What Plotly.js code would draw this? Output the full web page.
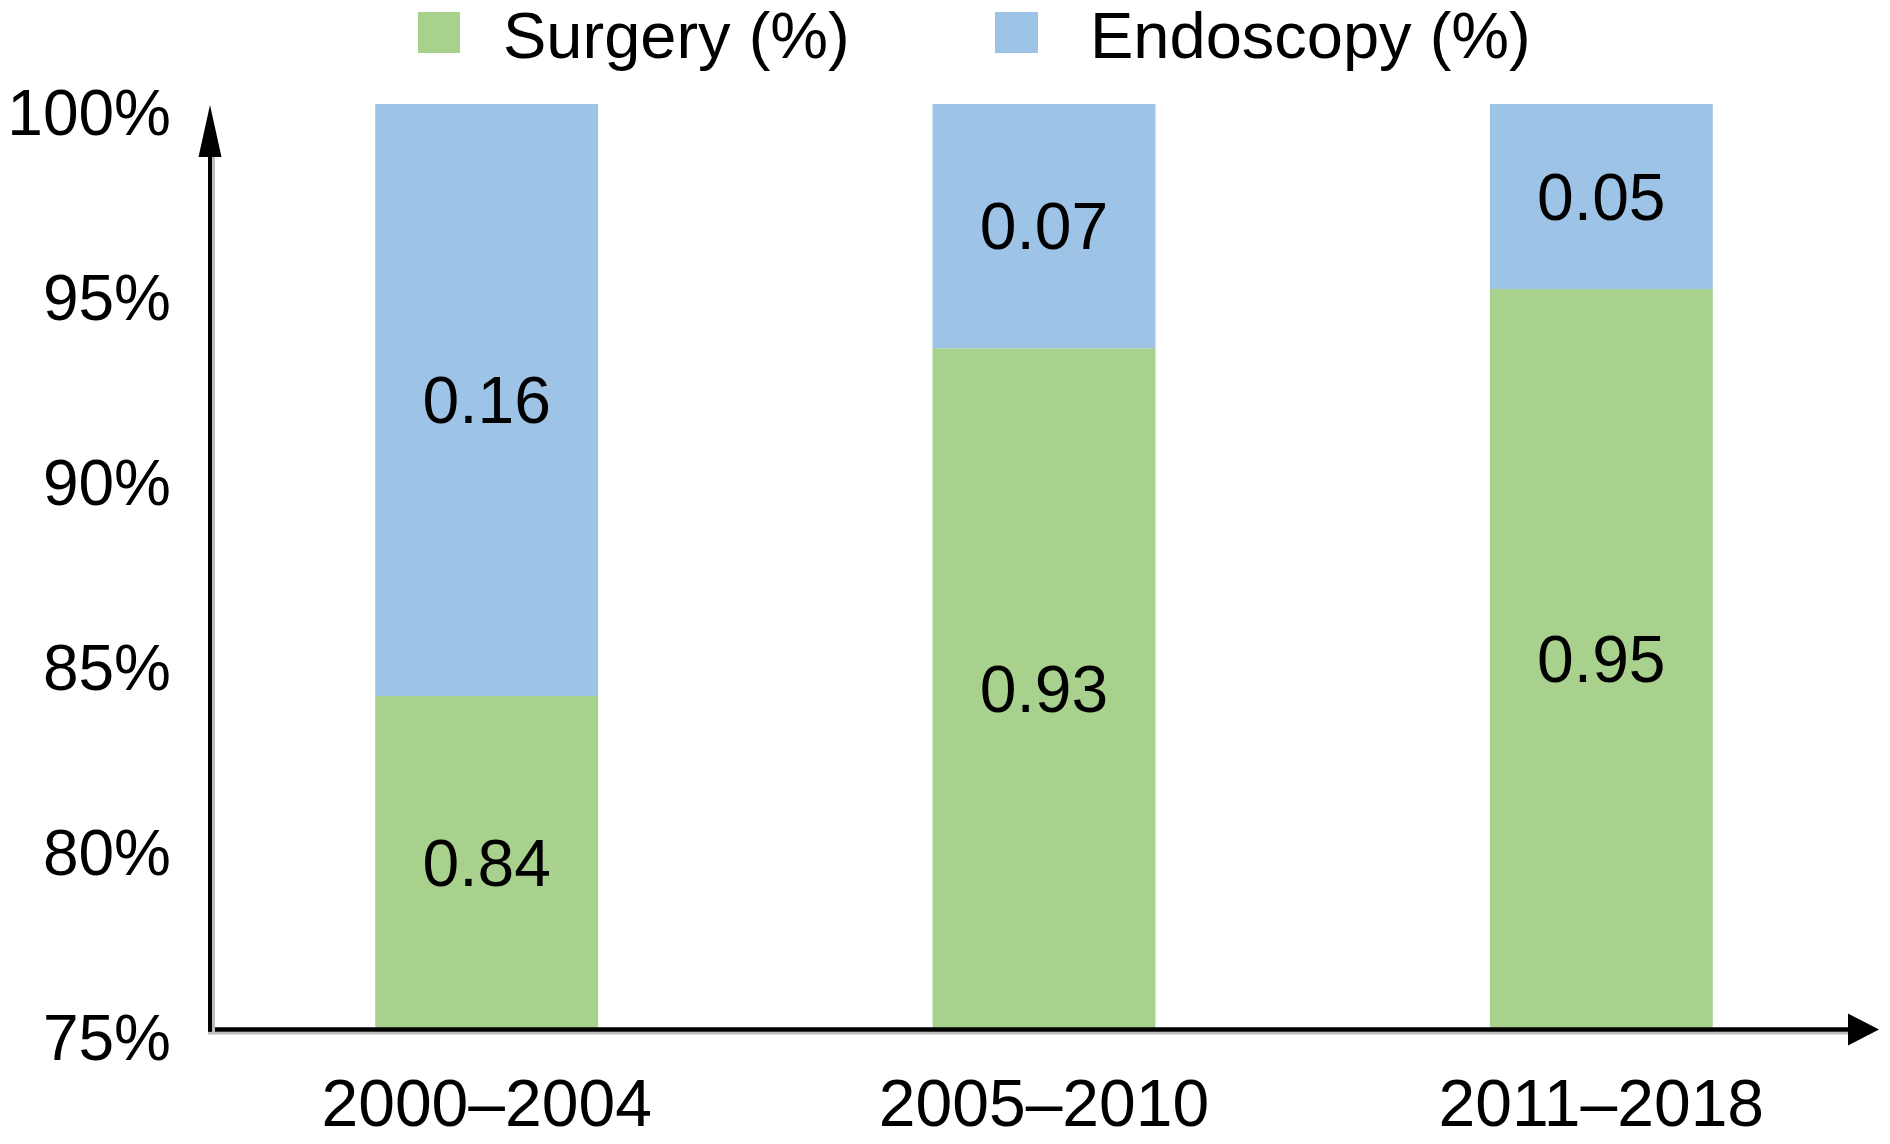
<!DOCTYPE html>
<html><head><meta charset="utf-8">
<script src="https://cdn.plot.ly/plotly-3.0.1.min.js"></script>
<style>html,body{margin:0;padding:0;background:#fff;}#chart{width:1890px;height:1144px;}</style>
</head><body><div id="chart"></div>
<script>
// ---- data ----
const periods = ['2000–2004', '2005–2010', '2011–2018'];
const surgery = [0.84, 0.934, 0.95];
const endoscopy = [0.16, 0.066, 0.05];
const seriesNames = ['Surgery (%)', 'Endoscopy (%)'];
const seriesColors = ['#A9D18E', '#9DC3E6'];
const yTicks = [0.75, 0.80, 0.85, 0.90, 0.95, 1.00];
const yTickLabels = ['75%', '80%', '85%', '90%', '95%', '100%'];
const yMin = 0.75, yMax = 1.0;

// ---- layout geometry ----
const W = 1890, H = 1144, L = 208, R = 10, T = 104, B = 115;
const plotW = W - L - R, plotH = H - T - B;
const px = p => (p - L) / plotW;
const py = p => (H - B - p) / plotH;
const FONT = '"Liberation Sans", Arial, Helvetica, sans-serif';

const surgeryBase = surgery.map(() => yMin);
const surgeryVisible = surgery.map(v => v - yMin);

const traces = [
  {
    type: 'bar', x: periods, y: surgeryVisible, base: surgeryBase, customdata: surgery,
    name: seriesNames[0], marker: {color: seriesColors[0], line: {width: 0}},
    texttemplate: '%{customdata:.2f}', textposition: 'inside', insidetextanchor: 'middle',
    textangle: 0, textfont: {family: FONT, size: 66, color: '#000'}, width: 0.4,
    hoverinfo: 'skip', cliponaxis: true
  },
  {
    type: 'bar', x: periods, y: endoscopy, base: surgery, customdata: endoscopy,
    name: seriesNames[1], marker: {color: seriesColors[1], line: {width: 0}},
    texttemplate: '%{customdata:.2f}', textposition: 'inside', insidetextanchor: 'middle',
    textangle: 0, textfont: {family: FONT, size: 66, color: '#000'}, width: 0.4,
    hoverinfo: 'skip', cliponaxis: true
  }
];

const pixShape = (o) => Object.assign({xref: 'paper', yref: 'paper', xsizemode: 'pixel', ysizemode: 'pixel', xanchor: 0, yanchor: 0, layer: 'above'}, o);

const shapes = [
  // x axis shadow + line
  pixShape({type: 'line', x0: 0, x1: 1642, y0: -4, y1: -4, line: {color: '#BDBDBD', width: 3}}),
  pixShape({type: 'line', x0: 0, x1: 1645, y0: -0.5, y1: -0.5, line: {color: '#000', width: 4.5}}),
  // y axis shadow + line
  pixShape({type: 'line', x0: 5.5, x1: 5.5, y0: -5.5, y1: 874, line: {color: '#BDBDBD', width: 3}}),
  pixShape({type: 'line', x0: 2, x1: 2, y0: -2.5, y1: 876, line: {color: '#000', width: 4}}),
  // arrowheads
  pixShape({type: 'path', path: 'M-9.5,872 L13.5,872 L2,924 Z', fillcolor: '#000', line: {width: 0}}),
  pixShape({type: 'path', path: 'M1640,15.5 L1640,-16.5 L1671,-0.5 Z', fillcolor: '#000', line: {width: 0}}),
  // legend swatches
  pixShape({type: 'rect', x0: 210, x1: 252, y0: 1017, y1: 976, fillcolor: seriesColors[0], line: {width: 0}}),
  pixShape({type: 'rect', x0: 787, x1: 830, y0: 1017, y1: 976, fillcolor: seriesColors[1], line: {width: 0}})
];

const annotations = [
  {xref: 'paper', yref: 'paper', x: px(501), y: py(35), xanchor: 'left', yanchor: 'middle',
   text: seriesNames[0], showarrow: false, font: {family: FONT, size: 65, color: '#000'}},
  {xref: 'paper', yref: 'paper', x: px(1088), y: py(35), xanchor: 'left', yanchor: 'middle',
   text: seriesNames[1], showarrow: false, font: {family: FONT, size: 65, color: '#000'}}
];

const layout = {
  width: W, height: H,
  margin: {l: L, r: R, t: T, b: B, pad: 0},
  paper_bgcolor: '#fff', plot_bgcolor: '#fff',
  barmode: 'overlay',
  showlegend: false,
  font: {family: FONT, color: '#000'},
  xaxis: {
    type: 'category', range: [-0.5, 2.5], showgrid: false, zeroline: false, showline: false,
    ticks: '', tickfont: {family: FONT, size: 66, color: '#000'}, ticklabelstandoff: 30, fixedrange: true
  },
  yaxis: {
    range: [yMin, yMax], tickvals: yTicks, ticktext: yTickLabels, showgrid: false, zeroline: false,
    showline: false, ticks: '', tickfont: {family: FONT, size: 64, color: '#000'},
    ticklabelstandoff: 36, ticklabelshift: 9, fixedrange: true
  },
  shapes: shapes,
  annotations: annotations
};

Plotly.newPlot('chart', traces, layout, {staticPlot: true, displayModeBar: false});
</script>
</body></html>
